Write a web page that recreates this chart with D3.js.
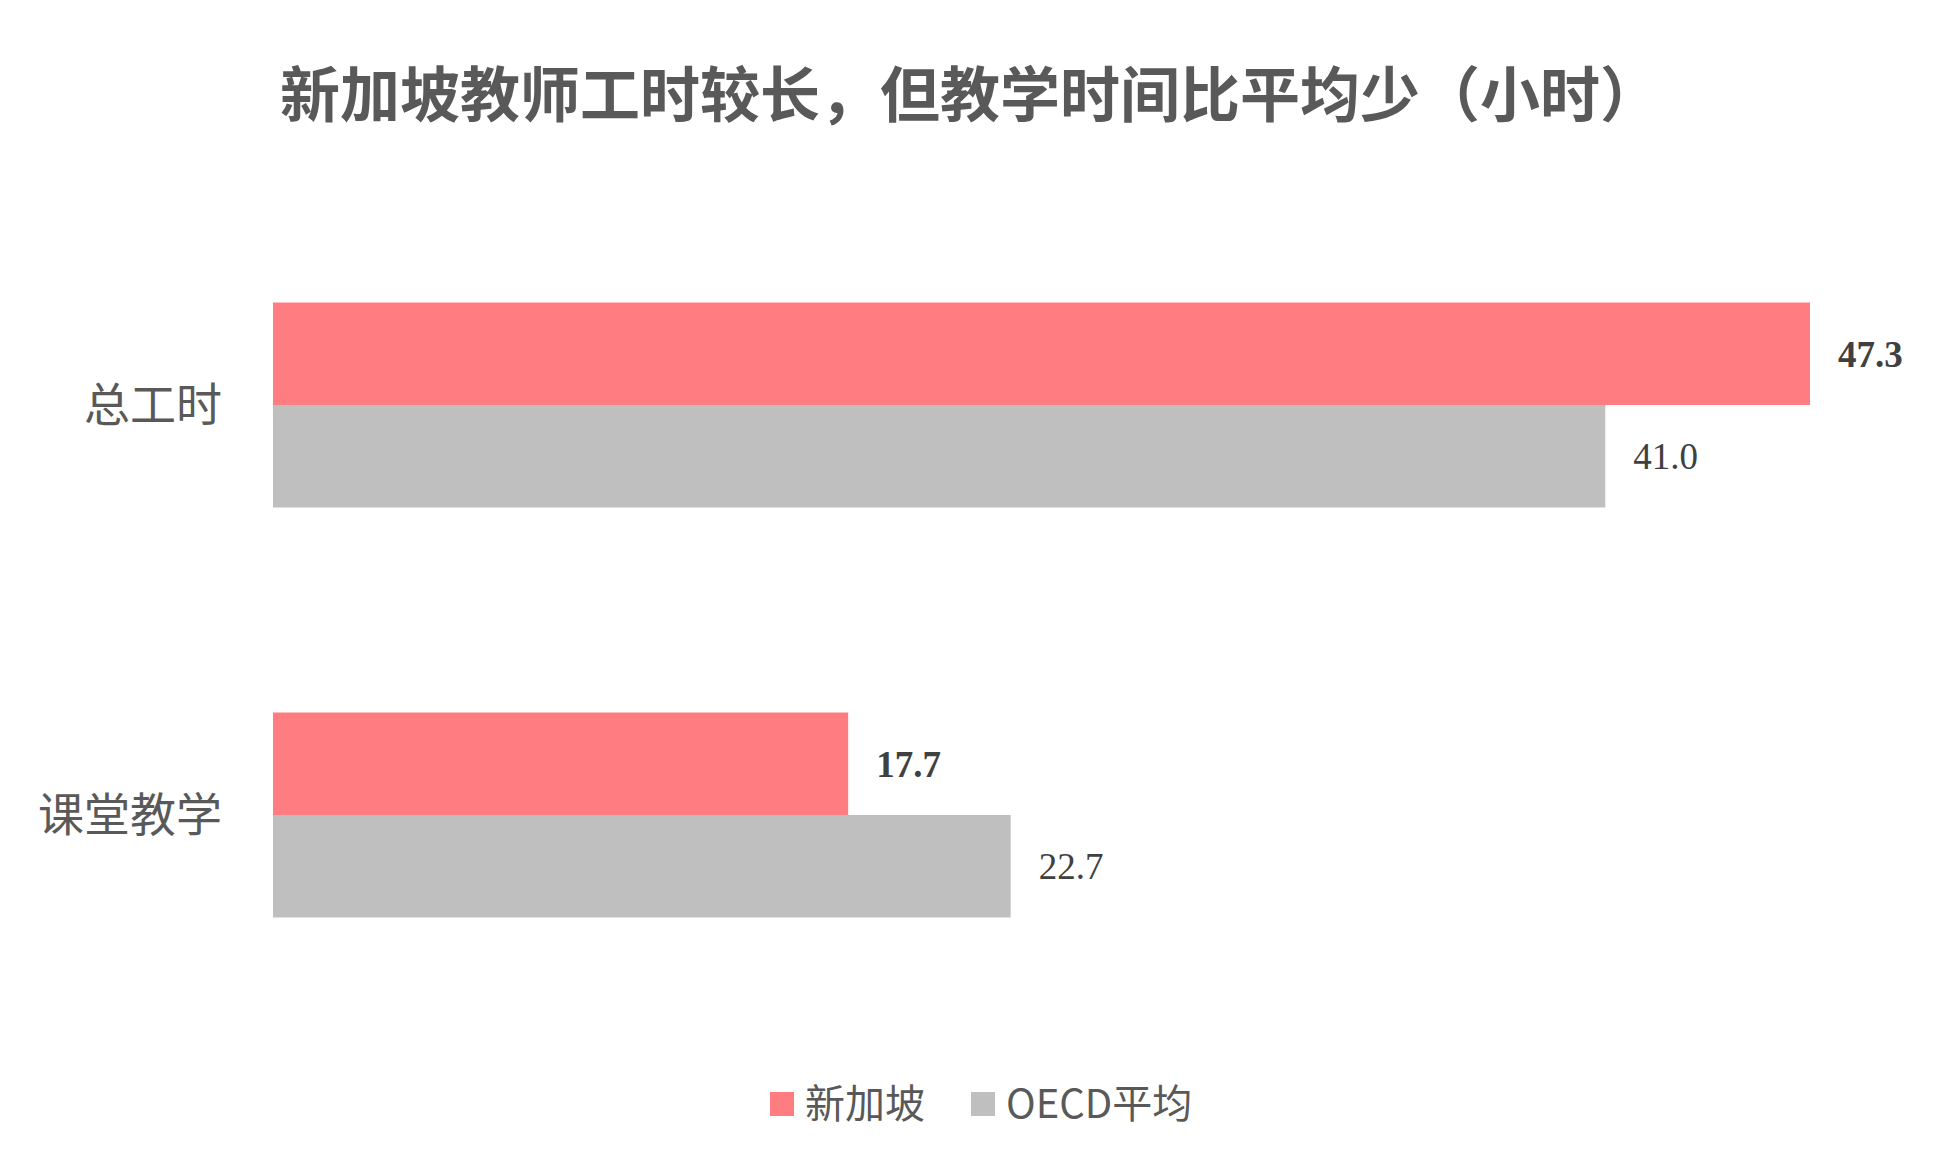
<!DOCTYPE html>
<meta charset="utf-8">
<script src="https://d3js.org/d3.v7.min.js"></script>
<style>body{margin:0;background:#fff}</style>
<body>
<script>
const categories = ["总工时", "课堂教学"];
const seriesNames = ["新加坡", "OECD平均"];
const singapore = [47.3, 17.7];
const oecd = [41.0, 22.7];
const colors = ["#ff7c80", "#bfbfbf"];

const W = 1947, H = 1168;
const svg = d3.select("body").append("svg").attr("width", W).attr("height", H);
const cjk = "'Noto Sans CJK SC', sans-serif";

svg.append("text").attr("x", 970).attr("y", 117).attr("text-anchor", "middle")
  .attr("font-family", cjk).attr("font-size", 60).attr("font-weight", "bold")
  .attr("fill", "#595959").text("新加坡教师工时较长，但教学时间比平均少（小时）");

const x = d3.scaleLinear().domain([0, 47.3]).range([273, 1810]);
const y = d3.scaleBand().domain(categories).range([200, 1020]).paddingInner(0.5).paddingOuter(0.25);
const sub = d3.scaleBand().domain([0, 1]).range([0, y.bandwidth()]);

const rows = categories.map((c, i) => ({c, vals: [singapore[i], oecd[i]]}));
const g = svg.selectAll("g.cat").data(rows).join("g")
  .attr("transform", d => `translate(0,${y(d.c)})`);

g.selectAll("rect").data(d => d.vals).join("rect")
  .attr("x", x(0)).attr("y", (d, j) => sub(j))
  .attr("width", d => x(d) - x(0)).attr("height", sub.bandwidth())
  .attr("fill", (d, j) => colors[j]);

g.selectAll("text.v").data(d => d.vals).join("text").attr("class", "v")
  .attr("x", d => x(d) + 28).attr("y", (d, j) => sub(j) + sub.bandwidth() / 2)
  .attr("dy", "0.35em").attr("font-family", "'Liberation Serif', serif")
  .attr("font-size", 37).attr("font-weight", (d, j) => j === 0 ? "bold" : "normal")
  .attr("fill", "#404040").text(d => d.toFixed(1));

g.append("text").attr("x", 222).attr("y", y.bandwidth() / 2).attr("dy", "0.35em")
  .attr("text-anchor", "end").attr("font-family", cjk).attr("font-size", 46)
  .attr("fill", "#595959").text(d => d.c);

const lx = [770, 971];
const lg = svg.selectAll("g.leg").data(seriesNames).join("g")
  .attr("transform", (d, i) => `translate(${lx[i]},1104)`);
lg.append("rect").attr("x", 0).attr("y", -12).attr("width", 24).attr("height", 24)
  .attr("fill", (d, i) => colors[i]);
lg.append("text").attr("x", 35).attr("dy", "0.35em").attr("font-family", cjk)
  .attr("font-size", 40).attr("fill", "#595959").text(d => d);
</script>
</body>
